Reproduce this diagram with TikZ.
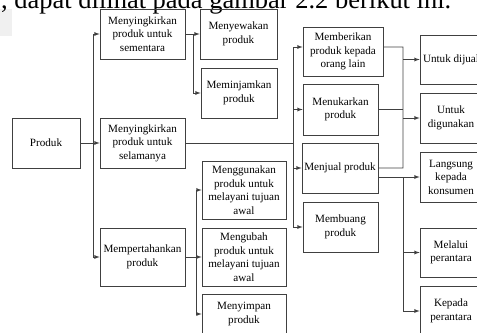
\documentclass[tikz,border=0pt]{standalone}
\usepackage{fontspec}
\setmainfont{Liberation Serif}
\usetikzlibrary{arrows}

\tikzset{
  kotak/.style={draw=black!75, line width=0.6pt, align=center, inner sep=1pt,
    minimum width=2.28cm, minimum height=1.5cm, font=\fontsize{9.5}{11.6}\selectfont},
  garis/.style={draw=black!75, line width=0.6pt},
  panah/.style={garis, -latex}
}

\begin{document}
\begin{tikzpicture}[x=0.03cm, y=-0.03cm]
\useasboundingbox (0,0) rectangle (477,332);
\clip (0,0) rectangle (477,332);
\fill[black!6] (0,9) rectangle (12,36);
\node[anchor=base west, inner sep=0, font=\fontsize{22.6}{26}\selectfont] (judul) at (1,8.5) {, dapat dilihat pada gambar 2.2 berikut ini.};

\node[kotak, minimum width=2.04cm] (produk) at (46,143) {Produk};

\node[kotak, minimum width=2.55cm] (sementara) at (142.5,34) {Menyingkirkan\\produk untuk\\sementara};
\node[kotak, minimum width=2.55cm] (selamanya) at (142.5,143) {Menyingkirkan\\produk untuk\\selamanya};
\node[kotak, minimum width=2.55cm, minimum height=1.74cm] (pertahankan) at (142.5,257) {Mempertahankan\\produk};

\node[kotak, minimum width=2.31cm] (sewa) at (238.5,34) {Menyewakan\\produk};
\node[kotak] (pinjam) at (239,93) {Meminjamkan\\produk};
\node[kotak, minimum width=2.52cm, minimum height=1.74cm] (guna) at (244,190) {Menggunakan\\produk untuk\\melayani tujuan\\awal};
\node[kotak, minimum width=2.52cm, minimum height=1.74cm] (ubah) at (244,257) {Mengubah\\produk untuk\\melayani tujuan\\awal};
\node[kotak, minimum width=2.52cm, minimum height=1.2cm] (simpan) at (244,314) {Menyimpan\\produk};

\node[kotak, minimum width=2.4cm, minimum height=1.47cm] (beri) at (343,51.5) {Memberikan\\produk kepada\\orang lain};
\node[kotak, minimum width=2.25cm, minimum height=1.53cm] (tukar) at (340.5,109.5) {Menukarkan\\produk};
\node[kotak] (jual) at (340,168) {Menjual produk};
\node[kotak, minimum width=2.25cm] (buang) at (340.5,227) {Membuang\\produk};

\node[kotak, minimum width=1.86cm, minimum height=1.47cm] (dijual) at (451,59.5) {Untuk dijual};
\node[kotak, minimum width=1.86cm] (digunakan) at (451,118) {Untuk\\digunakan};
\node[kotak, minimum width=1.86cm] (langsung) at (451,177) {Langsung\\kepada\\konsumen};
\node[kotak, minimum width=1.86cm, minimum height=1.47cm] (melalui) at (451,252.5) {Melalui\\perantara};
\node[kotak, minimum width=1.86cm] (kepada) at (451,311) {Kepada\\perantara};

\coordinate (t1) at (93,143);
\coordinate (b1) at (193,34);
\coordinate (b2) at (196,257);
\coordinate (t2) at (293,143);
\coordinate (b3) at (403,47);
\coordinate (b4) at (403,177);

\draw[panah] (produk.east) -- (selamanya.west);
\draw[panah] (t1) |- (sementara.west);
\draw[panah] (t1) |- (pertahankan.west);

\draw[panah] (sementara.east) -- (sewa.west);
\draw[panah] (b1) |- (pinjam.west);

\draw[panah] (pertahankan.east) -- (ubah.west);
\draw[panah] (b2) |- (guna.west);
\draw[panah] (b2) |- (simpan.west);

\draw[garis] (selamanya.east) -- (t2);
\draw[panah] (t2) |- ([yshift=1.35mm]beri.west);
\draw[panah] (t2) |- (tukar.west);
\draw[panah] (t2) |- (jual.west);
\draw[panah] (t2) |- (buang.west);

\draw[garis] ([yshift=1.35mm]beri.east) -- (b3) -- (b3 |- jual.east) -- (jual.east);
\draw[garis] (tukar.east) -- (tukar.east -| b3);
\draw[panah] (b3 |- dijual.west) -- (dijual.west);
\draw[panah] (b3 |- digunakan.west) -- (digunakan.west);

\draw[panah] (jual.east |- langsung.west) -- (langsung.west);
\draw[panah] (b4) |- (melalui.west);
\draw[panah] (b4) |- (kepada.west);
\end{tikzpicture}
\end{document}
